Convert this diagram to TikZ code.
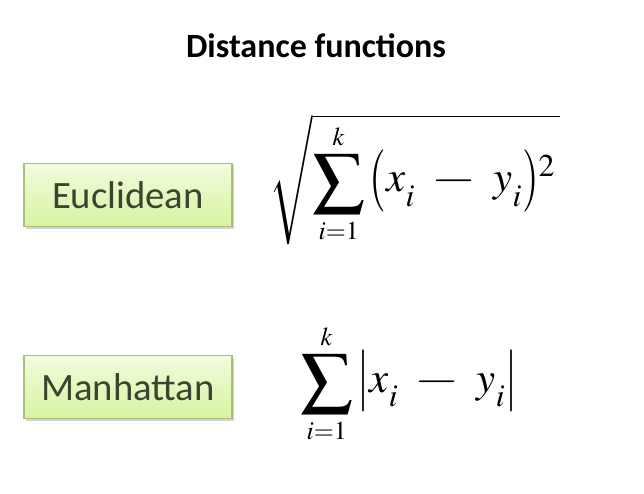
\documentclass[tikz,border=0pt]{standalone}
\usepackage{mathptmx}
\usepackage{fontspec}
\setmainfont{Carlito}
\usetikzlibrary{shadows}
\definecolor{boxtop}{HTML}{F2FCDC}
\definecolor{boxbot}{HTML}{D6F3A2}
\definecolor{boxline}{HTML}{A9BE78}
\definecolor{boxtext}{HTML}{39452F}
% enlarged summation sign with small limits
\newcommand{\bigsum}[2]{\mathop{\lower3pt\hbox{$\vcenter{\hbox{\scalebox{1.2}[1.12]{$\displaystyle\sum$}}}$}}\limits_{\scriptscriptstyle #1}^{\scriptscriptstyle #2}}
% tall slim delimiters, wide minus, low sub/superscripts
\newcommand{\tall}[1]{\vcenter{\hbox{\scalebox{1}[1.45]{$#1$}}}}
\newcommand{\wminus}{\mathbin{\scalebox{1.35}[1]{$-$}}}
\newcommand{\low}[1]{_{\raisebox{-8pt}{$\scriptstyle #1$}}}
\newcommand{\sq}{^{\raisebox{-14pt}{$\scriptstyle 2$}}}
\tikzset{
  namebox/.style={draw=boxline,line width=1.2pt,top color=boxtop,bottom color=boxbot,
    minimum width=208pt,minimum height=63pt,inner sep=0pt,text=boxtext,
    font=\fontsize{38.7}{44}\selectfont,
    drop shadow={shadow xshift=1.5pt,shadow yshift=-2pt,fill=black!35,opacity=0.5}},
  formula/.style={inner sep=0pt,font=\fontsize{43}{50}\selectfont,anchor=base west}
}
\begin{document}
\begin{tikzpicture}[x=1pt,y=-1pt]
\useasboundingbox (0,0) rectangle (644,494);
\node[font=\fontsize{34}{40}\selectfont\bfseries] (title) at (316,46) {Distance functions};
\node[namebox] (eucl) at (128,195) {Euclidean};
\node[namebox] (manh) at (128,387) {Manhattan};
\node[formula] (efun) at (269,192) {$\medmuskip=7mu\displaystyle\sqrt{\vrule height 66pt depth 52pt width 0pt\bigsum{i=1}{k}\,\mathopen{\tall{(}}x\low{i}\wminus y\low{i}\mathclose{\tall{)}}\sq\,}$};
\node[formula] (mfun) at (300,392) {$\medmuskip=7mu\displaystyle\bigsum{i=1}{k}\,\mathopen{\tall{|}}x\low{i}\wminus y\low{i}\mathclose{\tall{|}}$};
\end{tikzpicture}
\end{document}
